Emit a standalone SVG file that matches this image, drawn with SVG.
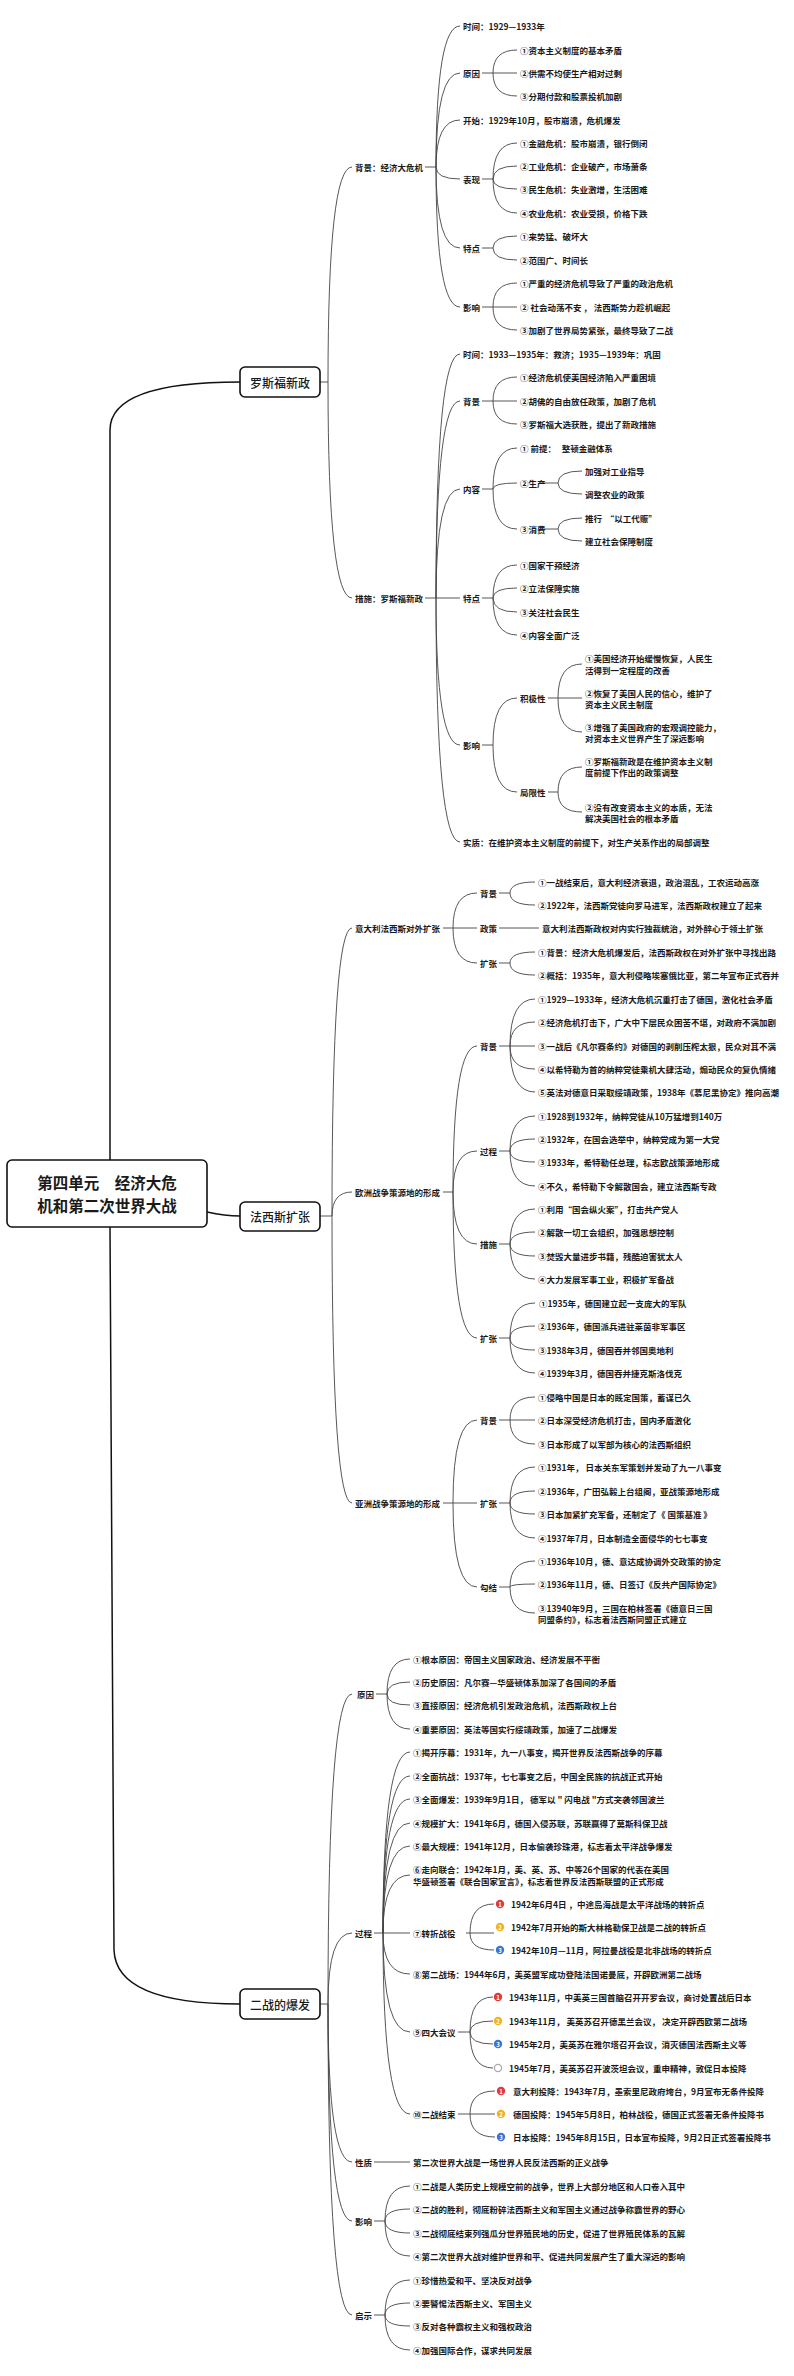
<svg xmlns="http://www.w3.org/2000/svg" width="794" height="2376" viewBox="0 0 794 2376">
<style>
text{font-family:"Noto Sans CJK SC","Noto Sans",sans-serif;fill:#1a1a1a}
.t{font-size:8.5px;font-weight:600;dominant-baseline:central}
.h{font-size:12px;font-weight:500;dominant-baseline:central;text-anchor:middle}
.r{font-size:15.5px;font-weight:700;dominant-baseline:central;text-anchor:middle}
.box{fill:#fff;stroke:#111;stroke-width:1.6}
.c{fill:none;stroke:#444;stroke-width:0.9}
.m{fill:none;stroke:#111;stroke-width:1.5}
.n{font-size:6px;font-weight:700;fill:#fff;text-anchor:middle;dominant-baseline:central}
</style>
<rect width="794" height="2376" fill="#fff"/>
<g id="connectors">
<path class="m" d="M110 1160 L110 430 Q110 382 240 382 M207 1212 Q225 1216 240 1216 M110 1227 L114 1950 Q116 2004 240 2004"/>
<path class="c" d="M320 382 H328 M328 382 Q328 167 352 167 M328 382 Q328 598 352 598"/>
<path class="c" d="M425 167 H436 M436 167 Q436 26 460 26 M436 167 Q436 73 460 73 M436 167 Q436 120 460 120 M436 167 Q436 179 460 179 M436 167 Q436 248 460 248 M436 167 Q436 307 460 307"/>
<path class="c" d="M482 73 H493 M493 73 Q493 50 517 50 M493 73 H517 M493 73 Q493 96 517 96"/>
<path class="c" d="M482 179 H493 M493 179 Q493 143 517 143 M493 179 Q493 166 517 166 M493 179 Q493 189 517 189 M493 179 Q493 213 517 213"/>
<path class="c" d="M482 248 H493 M493 248 Q493 236 517 236 M493 248 Q493 260 517 260"/>
<path class="c" d="M482 307 H493 M493 307 Q493 283 517 283 M493 307 H517 M493 307 Q493 330 517 330"/>
<path class="c" d="M425 598 H436 M436 598 Q436 354 460 354 M436 598 Q436 401 460 401 M436 598 Q436 489 460 489 M436 598 H460 M436 598 Q436 745 460 745 M436 598 Q436 842 460 842"/>
<path class="c" d="M482 401 H493 M493 401 Q493 377 517 377 M493 401 H517 M493 401 Q493 424 517 424"/>
<path class="c" d="M482 489 H493 M493 489 Q493 448 517 448 M493 489 Q493 483 517 483 M493 489 Q493 529 517 529"/>
<path class="c" d="M540 483 H558 M558 483 Q558 471 582 471 M558 483 Q558 494 582 494"/>
<path class="c" d="M540 529 H558 M558 529 Q558 518 582 518 M558 529 Q558 541 582 541"/>
<path class="c" d="M482 598 H493 M493 598 Q493 565 517 565 M493 598 Q493 588 517 588 M493 598 Q493 612 517 612 M493 598 Q493 635 517 635"/>
<path class="c" d="M482 745 H493 M493 745 Q493 698 517 698 M493 745 Q493 792 517 792"/>
<path class="c" d="M548 698 H558 M558 698 Q558 664 582 664 M558 698 H582 M558 698 Q558 732 582 732"/>
<path class="c" d="M548 792 H558 M558 792 Q558 767 582 767 M558 792 Q558 812 582 812"/>
<path class="c" d="M320 1216 H332 M332 1216 Q332 928 352 928 M332 1216 Q332 1192 352 1192 M332 1216 Q332 1503 352 1503"/>
<path class="c" d="M443 928 H453 M453 928 Q453 893 477 893 M453 928 H477 M453 928 Q453 963 477 963"/>
<path class="c" d="M499 893 H510 M510 893 Q510 882 535 882 M510 893 Q510 905 535 905 M499 928 H539 M499 963 H510 M510 963 Q510 952 535 952 M510 963 Q510 975 535 975"/>
<path class="c" d="M443 1192 H453 M453 1192 Q453 1046 477 1046 M453 1192 Q453 1151 477 1151 M453 1192 Q453 1244 477 1244 M453 1192 Q453 1338 477 1338"/>
<path class="c" d="M499 1046 H510 M510 1046 Q510 999 535 999 M510 1046 Q510 1022 535 1022 M510 1046 H535 M510 1046 Q510 1069 535 1069 M510 1046 Q510 1092 535 1092"/>
<path class="c" d="M499 1151 H510 M510 1151 Q510 1116 535 1116 M510 1151 Q510 1139 535 1139 M510 1151 Q510 1162 535 1162 M510 1151 Q510 1186 535 1186"/>
<path class="c" d="M499 1244 H510 M510 1244 Q510 1209 535 1209 M510 1244 Q510 1232 535 1232 M510 1244 Q510 1256 535 1256 M510 1244 Q510 1279 535 1279"/>
<path class="c" d="M499 1338 H510 M510 1338 Q510 1303 535 1303 M510 1338 Q510 1326 535 1326 M510 1338 Q510 1350 535 1350 M510 1338 Q510 1373 535 1373"/>
<path class="c" d="M443 1503 H453 M453 1503 Q453 1420 477 1420 M453 1503 H477 M453 1503 Q453 1587 477 1587"/>
<path class="c" d="M499 1420 H510 M510 1420 Q510 1397 535 1397 M510 1420 H535 M510 1420 Q510 1444 535 1444"/>
<path class="c" d="M499 1503 H510 M510 1503 Q510 1467 535 1467 M510 1503 Q510 1491 535 1491 M510 1503 Q510 1514 535 1514 M510 1503 Q510 1538 535 1538"/>
<path class="c" d="M499 1587 H510 M510 1587 Q510 1561 535 1561 M510 1587 Q510 1584 535 1584 M510 1587 Q510 1613 535 1613"/>
<path class="c" d="M320 2004 H328 M328 2004 Q328 1694 352 1694 M328 2004 Q328 1933 352 1933 M328 2004 Q328 2162 352 2162 M328 2004 Q328 2221 352 2221 M328 2004 Q328 2315 352 2315"/>
<path class="c" d="M376 1694 H387 M387 1694 Q387 1659 410 1659 M387 1694 Q387 1682 410 1682 M387 1694 Q387 1705 410 1705 M387 1694 Q387 1729 410 1729"/>
<path class="c" d="M374 1933 H383 M383 1933 Q383 1752 410 1752 M383 1933 Q383 1776 410 1776 M383 1933 Q383 1799 410 1799 M383 1933 Q383 1823 410 1823 M383 1933 Q383 1846 410 1846 M383 1933 Q383 1875 410 1875 M383 1933 H410 M383 1933 Q383 1974 410 1974 M383 1933 Q383 2032 410 2032 M383 1933 Q383 2114 410 2114"/>
<path class="c" d="M374 2162 H410"/>
<path class="c" d="M374 2221 H385 M385 2221 Q385 2186 410 2186 M385 2221 Q385 2209 410 2209 M385 2221 Q385 2233 410 2233 M385 2221 Q385 2256 410 2256"/>
<path class="c" d="M374 2315 H385 M385 2315 Q385 2280 410 2280 M385 2315 Q385 2303 410 2303 M385 2315 Q385 2326 410 2326 M385 2315 Q385 2350 410 2350"/>
<path class="c" d="M466 1933 H470 M470 1933 Q470 1904 494 1904 M470 1933 H494 M470 1933 Q470 1950 494 1950"/>
<path class="c" d="M458 2032 H470 M470 2032 Q470 1997 493 1997 M470 2032 Q470 2021 493 2021 M470 2032 Q470 2044 493 2044 M470 2032 Q470 2068 493 2068"/>
<path class="c" d="M458 2114 H470 M470 2114 Q470 2091 495 2091 M470 2114 H495 M470 2114 Q470 2137 495 2137"/>
</g>
<g id="root"><rect class="box" x="7" y="1160" width="200" height="67" rx="5"/><text class="r" x="107" y="1182">第四单元　经济大危</text><text class="r" x="107" y="1205">机和第二次世界大战</text></g>
<g id="n-roosevelt"><rect class="box" x="240" y="367" width="80" height="30" rx="5"/><text class="h" x="280" y="382">罗斯福新政</text></g>
<g id="n-fascism"><rect class="box" x="240" y="1202" width="80" height="29" rx="5"/><text class="h" x="280" y="1216">法西斯扩张</text></g>
<g id="n-ww2"><rect class="box" x="240" y="1989" width="80" height="30" rx="5"/><text class="h" x="280" y="2004">二战的爆发</text></g>
<g id="roosevelt-branch">
<text class="t" x="355" y="167">背景：经济大危机</text>
<text class="t" x="463" y="26">时间：1929—1933年</text>
<text class="t" x="463" y="73">原因</text>
<text class="t" x="520" y="50">①资本主义制度的基本矛盾</text>
<text class="t" x="520" y="73">②供需不均使生产相对过剩</text>
<text class="t" x="520" y="96">③分期付款和股票投机加剧</text>
<text class="t" x="463" y="120">开始：1929年10月，股市崩溃，危机爆发</text>
<text class="t" x="463" y="179">表现</text>
<text class="t" x="520" y="143">①金融危机：股市崩溃，银行倒闭</text>
<text class="t" x="520" y="166">②工业危机：企业破产，市场萧条</text>
<text class="t" x="520" y="189">③民生危机：失业激增，生活困难</text>
<text class="t" x="520" y="213">④农业危机：农业受损，价格下跌</text>
<text class="t" x="463" y="248">特点</text>
<text class="t" x="520" y="236">①来势猛、破坏大</text>
<text class="t" x="520" y="260">②范围广、时间长</text>
<text class="t" x="463" y="307">影响</text>
<text class="t" x="520" y="283">①严重的经济危机导致了严重的政治危机</text>
<text class="t" x="520" y="307">② 社会动荡不安 ， 法西斯势力趁机崛起</text>
<text class="t" x="520" y="330">③加剧了世界局势紧张，最终导致了二战</text>
<text class="t" x="355" y="598">措施：罗斯福新政</text>
<text class="t" x="463" y="354">时间：1933—1935年：救济；1935—1939年：巩固</text>
<text class="t" x="463" y="401">背景</text>
<text class="t" x="520" y="377">①经济危机使美国经济陷入严重困境</text>
<text class="t" x="520" y="401">②胡佛的自由放任政策，加剧了危机</text>
<text class="t" x="520" y="424">③罗斯福大选获胜，提出了新政措施</text>
<text class="t" x="463" y="489">内容</text>
<text class="t" x="520" y="448" xml:space="preserve">① 前提：   整顿金融体系</text>
<text class="t" x="520" y="483">②生产</text>
<text class="t" x="585" y="471">加强对工业指导</text>
<text class="t" x="585" y="494">调整农业的政策</text>
<text class="t" x="520" y="529">③消费</text>
<text class="t" x="585" y="518" xml:space="preserve">推行  “以工代赈”</text>
<text class="t" x="585" y="541">建立社会保障制度</text>
<text class="t" x="463" y="598">特点</text>
<text class="t" x="520" y="565">①国家干预经济</text>
<text class="t" x="520" y="588">②立法保障实施</text>
<text class="t" x="520" y="612">③关注社会民生</text>
<text class="t" x="520" y="635">④内容全面广泛</text>
<text class="t" x="463" y="745">影响</text>
<text class="t" x="520" y="698">积极性</text>
<text class="t" x="585" y="658">①美国经济开始缓慢恢复，人民生</text>
<text class="t" x="585" y="670">活得到一定程度的改善</text>
<text class="t" x="585" y="693">②恢复了美国人民的信心，维护了</text>
<text class="t" x="585" y="704">资本主义民主制度</text>
<text class="t" x="585" y="727">③增强了美国政府的宏观调控能力，</text>
<text class="t" x="585" y="738">对资本主义世界产生了深远影响</text>
<text class="t" x="520" y="792">局限性</text>
<text class="t" x="585" y="761">①罗斯福新政是在维护资本主义制</text>
<text class="t" x="585" y="772">度前提下作出的政策调整</text>
<text class="t" x="585" y="807">②没有改变资本主义的本质，无法</text>
<text class="t" x="585" y="818">解决美国社会的根本矛盾</text>
<text class="t" x="463" y="842">实质：在维护资本主义制度的前提下，对生产关系作出的局部调整</text>
</g>
<g id="fascism-branch">
<text class="t" x="355" y="928">意大利法西斯对外扩张</text>
<text class="t" x="480" y="893">背景</text>
<text class="t" x="538" y="882">①一战结束后，意大利经济衰退，政治混乱，工农运动高涨</text>
<text class="t" x="538" y="905">②1922年，法西斯党徒向罗马进军，法西斯政权建立了起来</text>
<text class="t" x="480" y="928">政策</text>
<text class="t" x="542" y="928">意大利法西斯政权对内实行独裁统治，对外醉心于领土扩张</text>
<text class="t" x="480" y="963">扩张</text>
<text class="t" x="538" y="952">①背景：经济大危机爆发后，法西斯政权在对外扩张中寻找出路</text>
<text class="t" x="538" y="975">②概括：1935年，意大利侵略埃塞俄比亚，第二年宣布正式吞并</text>
<text class="t" x="355" y="1192">欧洲战争策源地的形成</text>
<text class="t" x="480" y="1046">背景</text>
<text class="t" x="538" y="999">①1929—1933年，经济大危机沉重打击了德国，激化社会矛盾</text>
<text class="t" x="538" y="1022">②经济危机打击下，广大中下层民众困苦不堪，对政府不满加剧</text>
<text class="t" x="538" y="1046">③一战后《凡尔赛条约》对德国的剥削压榨太狠，民众对其不满</text>
<text class="t" x="538" y="1069">④以希特勒为首的纳粹党徒乘机大肆活动，煽动民众的复仇情绪</text>
<text class="t" x="538" y="1092">⑤英法对德意日采取绥靖政策，1938年《慕尼黑协定》推向高潮</text>
<text class="t" x="480" y="1151">过程</text>
<text class="t" x="538" y="1116">①1928到1932年，纳粹党徒从10万猛增到140万</text>
<text class="t" x="538" y="1139">②1932年，在国会选举中，纳粹党成为第一大党</text>
<text class="t" x="538" y="1162">③1933年，希特勒任总理，标志欧战策源地形成</text>
<text class="t" x="538" y="1186">④不久，希特勒下令解散国会，建立法西斯专政</text>
<text class="t" x="480" y="1244">措施</text>
<text class="t" x="538" y="1209">①利用“国会纵火案”，打击共产党人</text>
<text class="t" x="538" y="1232">②解散一切工会组织，加强思想控制</text>
<text class="t" x="538" y="1256">③焚毁大量进步书籍，残酷迫害犹太人</text>
<text class="t" x="538" y="1279">④大力发展军事工业，积极扩军备战</text>
<text class="t" x="480" y="1338">扩张</text>
<text class="t" x="539" y="1303">①1935年，德国建立起一支庞大的军队</text>
<text class="t" x="538" y="1326">②1936年，德国派兵进驻莱茵非军事区</text>
<text class="t" x="538" y="1350">③1938年3月，德国吞并邻国奥地利</text>
<text class="t" x="538" y="1373">④1939年3月，德国吞并捷克斯洛伐克</text>
<text class="t" x="355" y="1503">亚洲战争策源地的形成</text>
<text class="t" x="480" y="1420">背景</text>
<text class="t" x="538" y="1397">①侵略中国是日本的既定国策，蓄谋已久</text>
<text class="t" x="538" y="1420">②日本深受经济危机打击，国内矛盾激化</text>
<text class="t" x="538" y="1444">③日本形成了以军部为核心的法西斯组织</text>
<text class="t" x="480" y="1503">扩张</text>
<text class="t" x="538" y="1467">①1931年， 日本关东军策划并发动了九一八事变</text>
<text class="t" x="538" y="1491">②1936年，广田弘毅上台组阁，亚战策源地形成</text>
<text class="t" x="538" y="1514">③日本加紧扩充军备，还制定了《 国策基准 》</text>
<text class="t" x="538" y="1538">④1937年7月，日本制造全面侵华的七七事变</text>
<text class="t" x="480" y="1587">勾结</text>
<text class="t" x="538" y="1561">①1936年10月，德、意达成协调外交政策的协定</text>
<text class="t" x="538" y="1584">②1936年11月，德、日签订《反共产国际协定》</text>
<text class="t" x="538" y="1608">③13940年9月，三国在柏林签署《德意日三国</text>
<text class="t" x="538" y="1619">同盟条约》，标志着法西斯同盟正式建立</text>
</g>
<g id="ww2-branch">
<text class="t" x="357" y="1694">原因</text>
<text class="t" x="413" y="1659">①根本原因：帝国主义国家政治、经济发展不平衡</text>
<text class="t" x="413" y="1682">②历史原因：凡尔赛—华盛顿体系加深了各国间的矛盾</text>
<text class="t" x="413" y="1705">③直接原因：经济危机引发政治危机，法西斯政权上台</text>
<text class="t" x="413" y="1729">④重要原因：英法等国实行绥靖政策，加速了二战爆发</text>
<text class="t" x="355" y="1933">过程</text>
<text class="t" x="413" y="1752">①揭开序幕：1931年，九一八事变，揭开世界反法西斯战争的序幕</text>
<text class="t" x="413" y="1776">②全面抗战：1937年，七七事变之后，中国全民族的抗战正式开始</text>
<text class="t" x="413" y="1799" xml:space="preserve">③全面爆发：1939年9月1日， 德军以 " 闪电战 "方式突袭邻国波兰</text>
<text class="t" x="413" y="1823">④规模扩大：1941年6月，德国入侵苏联，苏联赢得了莫斯科保卫战</text>
<text class="t" x="413" y="1846">⑤最大规模：1941年12月，日本偷袭珍珠港，标志着太平洋战争爆发</text>
<text class="t" x="413" y="1869">⑥走向联合：1942年1月，美、英、苏、中等26个国家的代表在美国</text>
<text class="t" x="413" y="1881">华盛顿签署《联合国家宣言》，标志着世界反法西斯联盟的正式形成</text>
<text class="t" x="413" y="1933">⑦转折战役</text>
<g id="turning">
<circle cx="500" cy="1904" r="4.2" fill="#e03b3b"/><text class="n" x="500" y="1904">1</text>
<circle cx="500" cy="1927" r="4.2" fill="#f0b323"/><text class="n" x="500" y="1927">2</text>
<circle cx="500" cy="1950" r="4.2" fill="#3b74d2"/><text class="n" x="500" y="1950">3</text>
<text class="t" x="511" y="1904">1942年6月4日 ，中途岛海战是太平洋战场的转折点</text>
<text class="t" x="511" y="1927">1942年7月开始的斯大林格勒保卫战是二战的转折点</text>
<text class="t" x="511" y="1950">1942年10月—11月，阿拉曼战役是北非战场的转折点</text>
</g>
<text class="t" x="413" y="1974">⑧第二战场：1944年6月，美英盟军成功登陆法国诺曼底，开辟欧洲第二战场</text>
<text class="t" x="413" y="2032">⑨四大会议</text>
<g id="conferences">
<circle cx="498" cy="1997" r="4.2" fill="#e03b3b"/><text class="n" x="498" y="1997">1</text>
<circle cx="498" cy="2021" r="4.2" fill="#f0b323"/><text class="n" x="498" y="2021">2</text>
<circle cx="498" cy="2044" r="4.2" fill="#3b74d2"/><text class="n" x="498" y="2044">3</text>
<circle cx="498" cy="2068" r="3.6" fill="#fff" stroke="#aaa" stroke-width="1.3"/>
<text class="t" x="509" y="1997">1943年11月，中美英三国首脑召开开罗会议，商讨处置战后日本</text>
<text class="t" x="509" y="2021" xml:space="preserve">1943年11月， 美英苏召开德黑兰会议， 决定开辟西欧第二战场</text>
<text class="t" x="509" y="2044">1945年2月，美英苏在雅尔塔召开会议，消灭德国法西斯主义等</text>
<text class="t" x="509" y="2068">1945年7月，美英苏召开波茨坦会议，重申精神，敦促日本投降</text>
</g>
<text class="t" x="413" y="2114">⑩二战结束</text>
<g id="ending">
<circle cx="501" cy="2091" r="4.2" fill="#e03b3b"/><text class="n" x="501" y="2091">1</text>
<circle cx="501" cy="2114" r="4.2" fill="#f0b323"/><text class="n" x="501" y="2114">2</text>
<circle cx="501" cy="2137" r="4.2" fill="#3b74d2"/><text class="n" x="501" y="2137">3</text>
<text class="t" x="513" y="2091">意大利投降：1943年7月，墨索里尼政府垮台，9月宣布无条件投降</text>
<text class="t" x="513" y="2114">德国投降：1945年5月8日，柏林战役，德国正式签署无条件投降书</text>
<text class="t" x="513" y="2137">日本投降：1945年8月15日，日本宣布投降，9月2日正式签署投降书</text>
</g>
<text class="t" x="355" y="2162">性质</text>
<text class="t" x="413" y="2162">第二次世界大战是一场世界人民反法西斯的正义战争</text>
<text class="t" x="355" y="2221">影响</text>
<text class="t" x="413" y="2186">①二战是人类历史上规模空前的战争，世界上大部分地区和人口卷入其中</text>
<text class="t" x="413" y="2209">②二战的胜利，彻底粉碎法西斯主义和军国主义通过战争称霸世界的野心</text>
<text class="t" x="413" y="2233">③二战彻底结束列强瓜分世界殖民地的历史，促进了世界殖民体系的瓦解</text>
<text class="t" x="413" y="2256">④第二次世界大战对维护世界和平、促进共同发展产生了重大深远的影响</text>
<text class="t" x="355" y="2315">启示</text>
<text class="t" x="413" y="2280">①珍惜热爱和平、坚决反对战争</text>
<text class="t" x="413" y="2303">②要警惕法西斯主义、军国主义</text>
<text class="t" x="413" y="2326">③反对各种霸权主义和强权政治</text>
<text class="t" x="413" y="2350">④加强国际合作，谋求共同发展</text>
</g>
</svg>
